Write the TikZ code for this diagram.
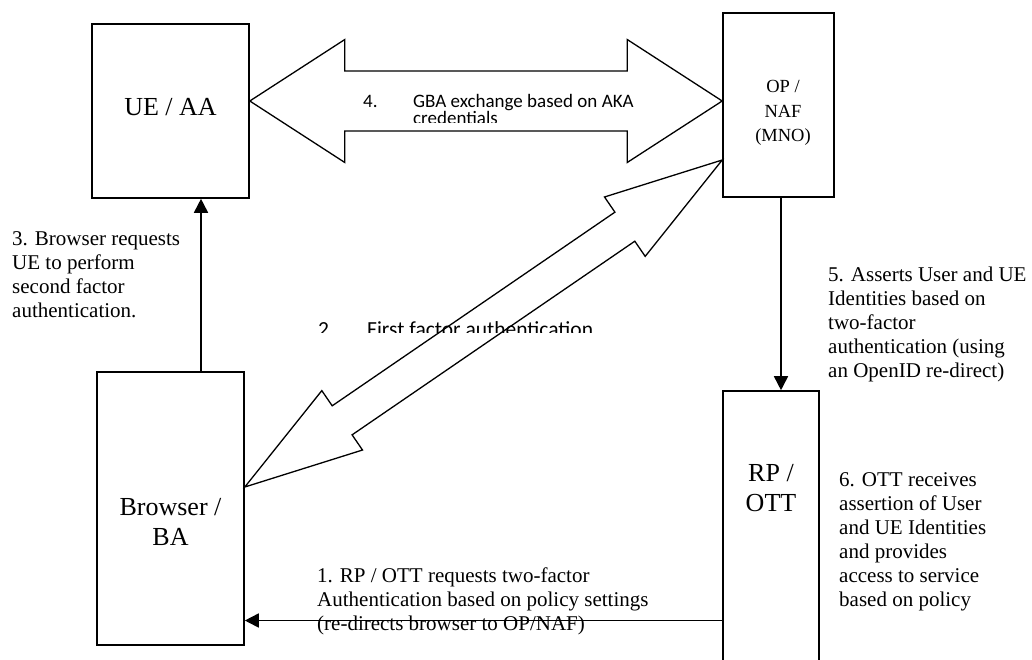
\documentclass[tikz,border=0pt]{standalone}
\usepackage{fontspec}
\setmainfont{Liberation Serif}
\newfontfamily\calfont{Carlito}
\usetikzlibrary{calc,arrows.meta}

% hollow double arrow: tip1, tip2, head length, head half width, shaft half width
\newcommand{\fatarrow}[5]{%
  \coordinate (fa1) at ($(#1)!#3!(#2)$);
  \coordinate (fa2) at ($(#2)!#3!(#1)$);
  \draw[fat] (#1) -- ($(fa1)!#4!90:(#2)$) -- ($(fa1)!#5!90:(#2)$)
    -- ($(fa2)!#5!-90:(#1)$) -- ($(fa2)!#4!-90:(#1)$) -- (#2)
    -- ($(fa2)!#4!90:(#1)$) -- ($(fa2)!#5!90:(#1)$)
    -- ($(fa1)!#5!-90:(#2)$) -- ($(fa1)!#4!-90:(#2)$) -- cycle;
}

\tikzset{
  box/.style={draw, line width=1.6pt, inner sep=0pt, align=center,
    font=\fontsize{26}{30}\selectfont},
  boxtext/.style={align=center, inner sep=0pt, font=\fontsize{26}{30}\selectfont},
  note/.style={align=left, inner sep=0pt, anchor=north west,
    font=\fontsize{21}{24}\selectfont},
  flow/.style={line width=1.7pt, -{Triangle[length=14pt,width=14pt]}},
  fat/.style={line width=1.3pt, line join=miter},
  cut/.style={inner sep=0pt, anchor=base west, font=\calfont\fontsize{19}{18.5}\selectfont},
}

\begin{document}
\begin{tikzpicture}[x=1pt,y=-1pt]
\clip (0,0) rectangle (1032,659);

% the four parties
\node[box, minimum width=157pt, minimum height=174pt,
  label={[boxtext, yshift=4pt]center:UE / AA}] (ue) at (170.5,111) {};
\node[box, minimum width=111pt, minimum height=184pt,
  label={[boxtext, font=\fontsize{18.5}{24.5}\selectfont, xshift=4.5pt, yshift=-8pt]center:OP /\\NAF\\(MNO)}] (op) at (778.5,105) {};
\node[box, minimum width=147pt, minimum height=273pt,
  label={[boxtext, yshift=-13pt]center:Browser /\\BA}] (ba) at (170.5,508.5) {};
\node[box, minimum width=96pt, minimum height=290pt,
  label={[boxtext, yshift=48pt]center:RP /\\OTT}] (rp) at (771,536) {};

% message flows
\draw[flow] ([yshift=-84.5pt]rp.west) -- ([yshift=-84.5pt]rp.west -| ba.east);
\draw[flow] ([xshift=30.5pt]ba.north) -- ([xshift=30.5pt]ue.south);
\draw[flow] ([xshift=2.5pt]op.south) -- ([xshift=2.5pt]op.south |- rp.north);

\coordinate (g1) at ([yshift=10pt]ue.east);
\coordinate (g2) at ([yshift=4pt]op.west);
\fatarrow{g1}{g2}{95pt}{61.5pt}{30pt}
\coordinate (f1) at ([yshift=21.5pt]ba.east);
\coordinate (f2) at ([yshift=-55pt]op.west);
\fatarrow{f1}{f2}{118pt}{36pt}{17.6pt}

% labels
\node[note] (n1) at (317,567.5) {1. RP / OTT requests two-factor\\Authentication based on policy settings\\(re-directs browser to OP/NAF)};
\node[note] (n3) at (12,231) {3. Browser requests\\UE to perform\\second factor\\authentication.};
\node[note] (n5) at (828,267) {5. Asserts User and UE\\Identities based on\\two-factor\\authentication (using\\an OpenID re-direct)};
\node[note] (n6) at (839,472) {6. OTT receives\\assertion of User\\and UE Identities\\and provides\\access to service\\based on policy};

\begin{scope}
  \clip (355,80) rectangle (640,122);
  \node[cut] (n4) at (363,107) {\begin{tabular}[t]{@{}p{50pt}@{}l@{}}4. & GBA exchange based on AKA\\[-1pt] & credentials\end{tabular}};
\end{scope}
\begin{scope}
  \clip (300,300) rectangle (610,332);
  \node[cut, font=\calfont\fontsize{21.5}{22}\selectfont] (n2) at (318,336) {\makebox[49pt][l]{2.}First factor authentication};
\end{scope}
\end{tikzpicture}
\end{document}
